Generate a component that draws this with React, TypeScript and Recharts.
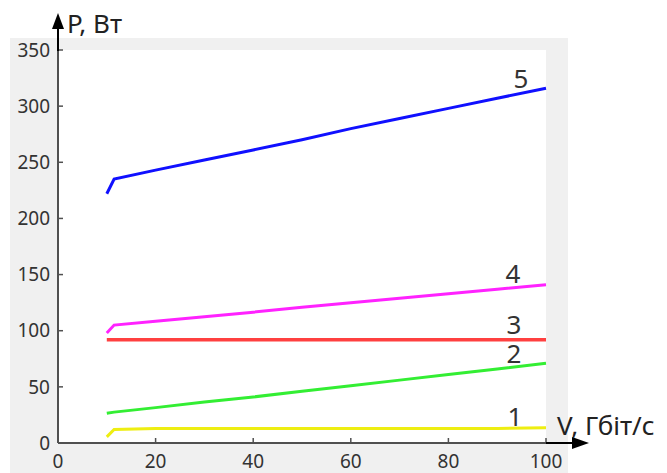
import React from "react";
import { LineChart, Line, XAxis, YAxis, CartesianGrid } from "recharts";

// швидкість, Гбіт/с
const speeds = [10, 11.5, 20, 30, 40, 50, 60, 70, 80, 90, 100];
// потужність, Вт (криві 1..5)
const power1 = [5.5, 12, 13, 13, 13, 13, 13, 13, 13, 13, 13.5];
const power2 = [26.5, 27.5, 31.5, 36.5, 41, 46, 51, 56, 61, 66, 71];
const power3 = [92, 92, 92, 92, 92, 92, 92, 92, 92, 92, 92];
const power4 = [98, 105, 108.5, 112.5, 116.5, 121, 125, 129, 133, 137, 141];
const power5 = [222, 235, 243, 252, 261, 270, 280, 289, 298, 307, 316];

const xTicks = [0, 20, 40, 60, 80, 100];
const yTicks = [0, 50, 100, 150, 200, 250, 300, 350];

const data = speeds.map((v, i) => ({
  v,
  p1: power1[i],
  p2: power2[i],
  p3: power3[i],
  p4: power4[i],
  p5: power5[i],
}));

const series = [
  { key: "p1", name: "1", color: "#eeee11", dx: -31, dy: -11 },
  { key: "p2", name: "2", color: "#33ee33", dx: -32, dy: -9 },
  { key: "p3", name: "3", color: "#ff4040", dx: -32, dy: -15 },
  { key: "p4", name: "4", color: "#ff22ff", dx: -33, dy: -11 },
  { key: "p5", name: "5", color: "#1010ff", dx: -25, dy: -9 },
];

const FONT = "'Noto Sans', sans-serif";
const AXIS = "#505050";
const TICK_LEN = 5;

const BottomTick = (props: any) => {
  const { x, y, payload } = props;
  return (
    <g>
      <line x1={x} x2={x} y1={y - 18} y2={y - 18 - TICK_LEN} stroke={AXIS} strokeWidth={1.5} />
      <text x={x} y={y} dy="0.35em" textAnchor="middle" fontSize={19} fill="#333" fontFamily={FONT}>
        {payload.value}
      </text>
    </g>
  );
};

const LeftTick = (props: any) => {
  const { x, y, payload } = props;
  return (
    <g>
      <line x1={x + 8} x2={x + 8 + TICK_LEN} y1={y} y2={y} stroke={AXIS} strokeWidth={1.5} />
      <text x={x} y={y} dy="0.35em" textAnchor="end" fontSize={19} fill="#333" fontFamily={FONT}>
        {payload.value}
      </text>
    </g>
  );
};

const TopTick = (props: any) => {
  const { x, y } = props;
  return <line x1={x} x2={x} y1={y} y2={y + TICK_LEN} stroke={AXIS} strokeWidth={1.5} />;
};

const RightTick = (props: any) => {
  const { x, y } = props;
  return <line x1={x - TICK_LEN} x2={x} y1={y} y2={y} stroke={AXIS} strokeWidth={1.5} />;
};

const endLabel = (name: string, dx: number, dy: number) => (props: any) => {
  const { x, y, index } = props;
  if (index !== speeds.length - 1) return <g />;
  return (
    <text x={x + dx} y={y + dy} dy="0.35em" textAnchor="middle" fontSize={26} fill="#333" fontFamily={FONT}>
      {name}
    </text>
  );
};

export default function App() {
  return (
    <div style={{ position: "absolute", left: 0, top: 0, width: 667, height: 473, background: "#fff", fontFamily: FONT }}>
      <div style={{ position: "absolute", left: 10, top: 38, width: 558, height: 435, background: "#f0f0f0" }} />
      <div style={{ position: "absolute", left: 0, top: 0 }}>
        <LineChart width={667} height={473} data={data} margin={{ top: 50, left: 10, right: 121, bottom: 0 }}>
          <CartesianGrid fill="#fff" horizontal={false} vertical={false} stroke="none" />
          <XAxis
            dataKey="v"
            type="number"
            domain={[0, 100]}
            ticks={xTicks}
            height={30}
            tickSize={0}
            tickMargin={18}
            tickLine={false}
            axisLine={{ stroke: AXIS, strokeWidth: 2 }}
            tick={<BottomTick />}
            interval={0}
          />
          <XAxis
            xAxisId="top"
            orientation="top"
            type="number"
            domain={[0, 100]}
            ticks={[20, 40, 60, 80]}
            height={0}
            tickSize={0}
            tickMargin={0}
            tickLine={false}
            axisLine={{ stroke: AXIS, strokeWidth: 2 }}
            tick={<TopTick />}
            interval={0}
          />
          <YAxis
            type="number"
            domain={[0, 350]}
            ticks={yTicks}
            width={48}
            tickSize={0}
            tickMargin={8}
            tickLine={false}
            axisLine={{ stroke: AXIS, strokeWidth: 2 }}
            tick={<LeftTick />}
            interval={0}
          />
          <YAxis
            yAxisId="right"
            orientation="right"
            type="number"
            domain={[0, 350]}
            ticks={[50, 100, 150, 200, 250, 300]}
            width={0}
            tickSize={0}
            tickMargin={0}
            tickLine={false}
            axisLine={{ stroke: AXIS, strokeWidth: 2 }}
            tick={<RightTick />}
            interval={0}
          />
          {series.map((s) => (
            <Line
              key={s.key}
              dataKey={s.key}
              type="linear"
              stroke={s.color}
              strokeWidth={s.key === "p3" ? 3.5 : 3}
              dot={false}
              isAnimationActive={false}
              label={endLabel(s.name, s.dx, s.dy)}
            />
          ))}
        </LineChart>
      </div>
      <svg width={667} height={473} style={{ position: "absolute", left: 0, top: 0, pointerEvents: "none" }}>
        <line x1={58} x2={58} y1={51} y2={26} stroke="#000" strokeWidth={2} />
        <polygon points="58,13 52,29 64,29" fill="#000" />
        <line x1={546} x2={574} y1={443} y2={443} stroke="#000" strokeWidth={2} />
        <polygon points="589,443 572,437 572,449" fill="#000" />
        <text x={67} y={33} fontSize={26} fill="#222" fontFamily={FONT}>
          P, Вт
        </text>
        <text x={557} y={435} fontSize={26} fill="#222" fontFamily={FONT}>
          V, Гбіт/с
        </text>
      </svg>
    </div>
  );
}
